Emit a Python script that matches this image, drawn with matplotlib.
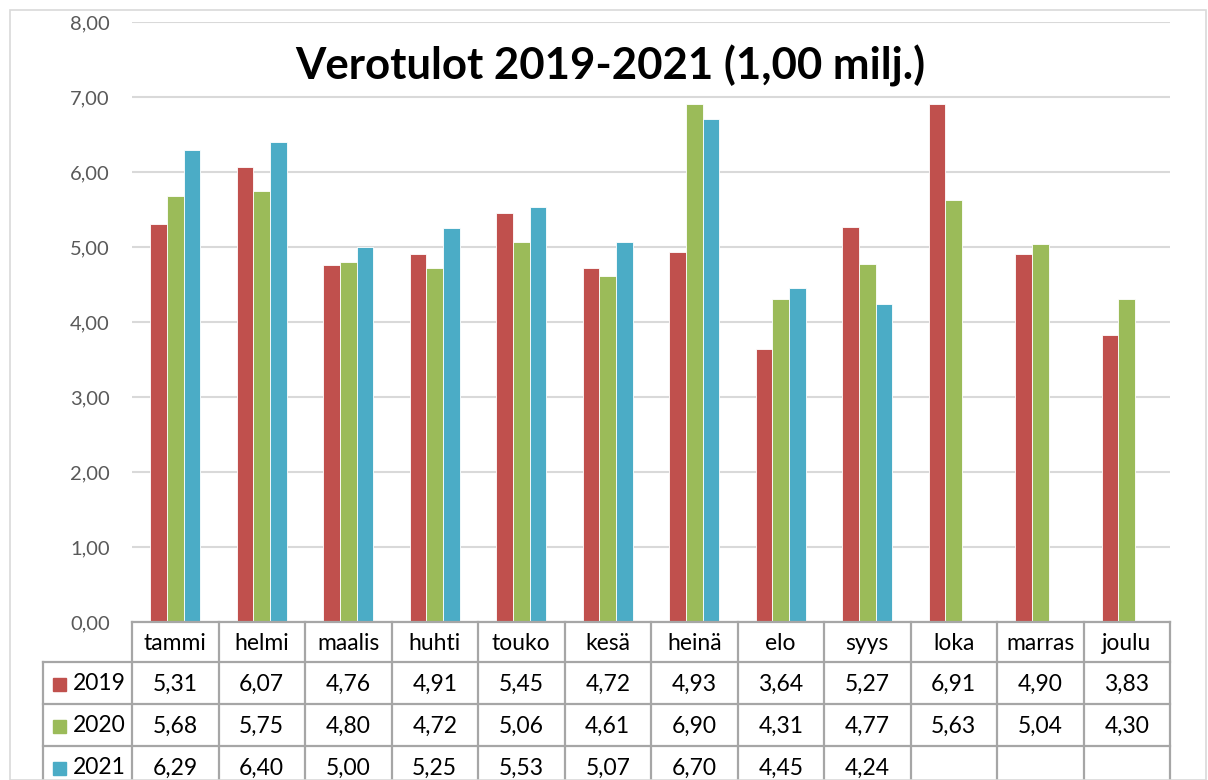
import matplotlib.pyplot as plt
import numpy as np
from matplotlib.patches import Rectangle

months = ["tammi", "helmi", "maalis", "huhti", "touko", "kesä",
          "heinä", "elo", "syys", "loka", "marras", "joulu"]
years = ["2019", "2020", "2021"]
v2019 = [5.31, 6.07, 4.76, 4.91, 5.45, 4.72, 4.93, 3.64, 5.27, 6.91, 4.90, 3.83]
v2020 = [5.68, 5.75, 4.80, 4.72, 5.06, 4.61, 6.90, 4.31, 4.77, 5.63, 5.04, 4.30]
v2021 = [6.29, 6.40, 5.00, 5.25, 5.53, 5.07, 6.70, 4.45, 4.24]
colors = ["#C0504D", "#9BBB59", "#4BACC6"]

plt.rcParams['font.family'] = ['Lato', 'DejaVu Sans']

W, H = 1208, 780
fig = plt.figure(figsize=(W / 100, H / 100), dpi=100)

# chart border
fig.patches.append(Rectangle((10 / W, 0), (1196 / W), (H - 10) / H,
                             transform=fig.transFigure, fill=False,
                             edgecolor="#D9D9D9", linewidth=1.2))

# bar area
left_px, right_px, top_px, zero_px = 132, 1170, 22, 622
ax = fig.add_axes([left_px / W, (H - zero_px) / H,
                   (right_px - left_px) / W, (zero_px - top_px) / H])
x = np.arange(len(months))
bw = 0.193
for k, vals in enumerate([v2019, v2020, v2021]):
    ax.bar(x[:len(vals)] + (k - 1) * bw, vals, width=bw, color=colors[k],
           edgecolor="white", linewidth=0.6, zorder=3)
ax.set_xlim(-0.5, 11.5)
ax.set_ylim(0, 8)
ax.set_yticks(np.arange(0, 9, 1))
ax.set_yticklabels([f"{t:.2f}".replace(".", ",") for t in range(9)],
                   fontsize=14.5, color="#595959")
ax.tick_params(axis="y", length=0, pad=16)
ax.set_xticks([])
ax.grid(axis="y", color="#D9D9D9", linewidth=1.5, zorder=0)
for s in ax.spines.values():
    s.set_visible(False)

fig.text(610 / W, 1 - 66 / H, "Verotulot 2019-2021 (1,00 milj.)", fontsize=31.5,
         fontweight="bold", ha="center", va="center")

# data table
colw = (right_px - left_px) / 12
legw = 89 / colw
tab = fig.add_axes([(left_px - 89) / W, 0, (right_px - left_px + 89) / W,
                    (H - zero_px) / H])
tab.set_xlim(-0.5 - legw, 11.5)
tab.set_ylim(158, 0)
tab.axis("off")
lc = "#A6A6A6"
lw = 1.6
rows = [0, 40, 82, 124, 166]
tab.plot([-0.5, 11.5], [rows[0], rows[0]], color=lc, lw=lw, clip_on=False)
for r in rows[1:]:
    tab.plot([-0.5 - legw, 11.5], [r, r], color=lc, lw=lw, clip_on=False)
for i in range(13):
    tab.plot([i - 0.5, i - 0.5], [0, 170], color=lc, lw=lw, clip_on=False)
tab.plot([-0.5 - legw, -0.5 - legw], [rows[1], 170], color=lc, lw=lw, clip_on=False)

for i, m in enumerate(months):
    tab.text(i, 21, m, ha="center", va="center", fontsize=16.5)
for k, vals in enumerate([v2019, v2020, v2021]):
    yc = (rows[k + 1] + rows[k + 2]) / 2 + 1
    for i, v in enumerate(vals):
        tab.text(i, yc, f"{v:.2f}".replace(".", ","), ha="center", va="center",
                 fontsize=16.5)
    tab.add_patch(Rectangle((-0.5 - legw + 10 / colw, yc - 6.5), 13 / colw, 13,
                            color=colors[k]))
    tab.text(-0.5 - legw + 30 / colw, yc, years[k], ha="left", va="center",
             fontsize=16.5)

fig.savefig("out.png", dpi=100)
